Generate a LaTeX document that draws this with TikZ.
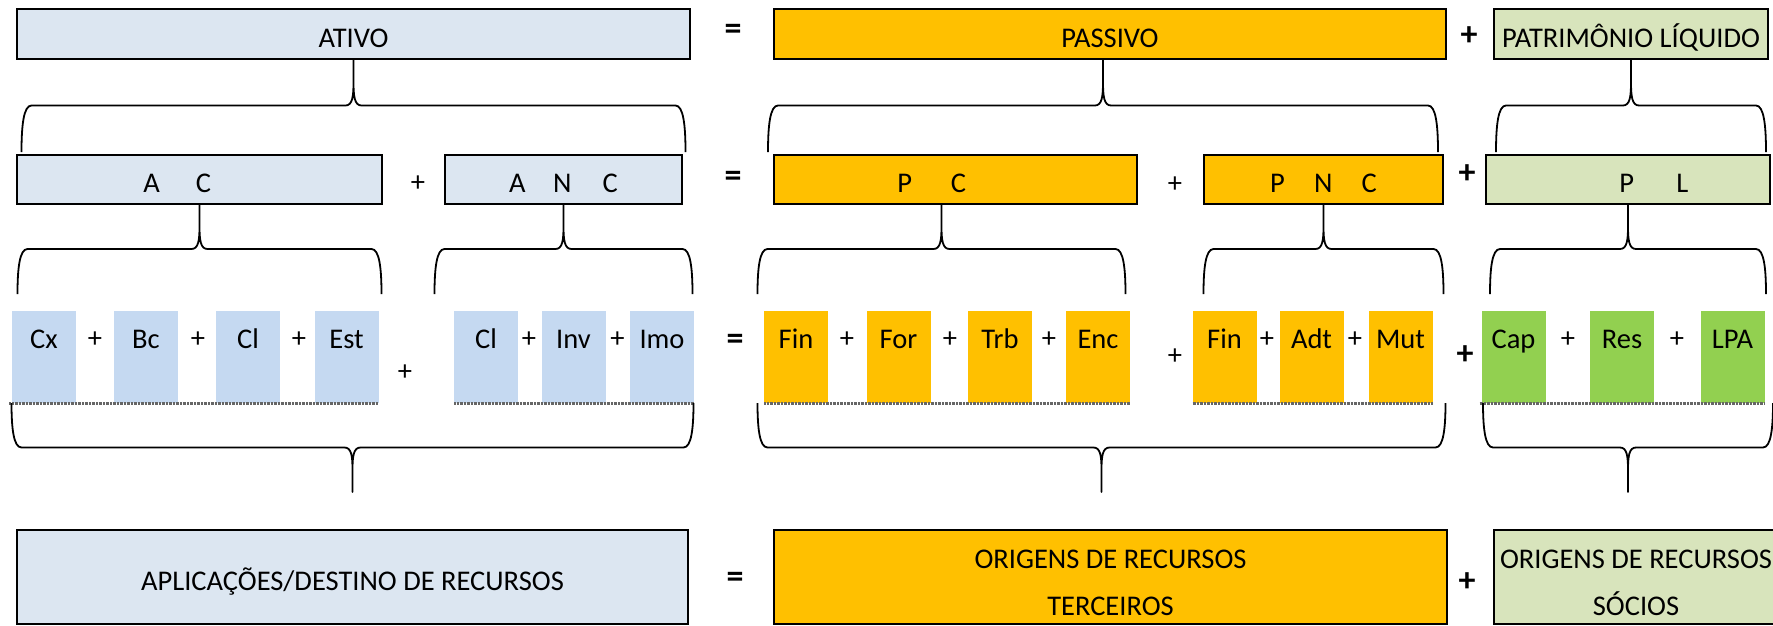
\documentclass[tikz,border=0pt]{standalone}
\usepackage{fontspec}
\setmainfont{Carlito}
\usepackage{xcolor}
\usetikzlibrary{positioning}

\definecolor{ativoazul}{HTML}{DCE6F1}
\definecolor{celazul}{HTML}{C5D9F1}
\definecolor{passlaranja}{HTML}{FFC000}
\definecolor{plverde}{HTML}{D8E4BC}
\definecolor{celverde}{HTML}{92D050}

% chave: ponta, meia largura, altura (negativa = ponta para baixo)
\newcommand{\chave}[3]{%
  \draw[chave, shift={#1}]
    (-#2,#3) .. controls (-#2,{0.72*(#3)}) and (-#2+2,{0.5*(#3)}) .. (-#2+10,{0.5*(#3)})
    -- (-8,{0.5*(#3)}) .. controls (-1,{0.5*(#3)}) and (0,{0.4*(#3)}) .. (0,{0.25*(#3)})
    -- (0,0) -- (0,{0.25*(#3)})
    .. controls (0,{0.4*(#3)}) and (1,{0.5*(#3)}) .. (8,{0.5*(#3)})
    -- (#2-10,{0.5*(#3)}) .. controls (#2-2,{0.5*(#3)}) and (#2,{0.72*(#3)}) .. (#2,#3);
}

\begin{document}
\begin{tikzpicture}[
  x=1pt, y=-1pt,
  font=\fontsize{28.5}{32}\selectfont,
  caixa/.style={draw=black, line width=2.5pt, outer sep=0pt, inner sep=0pt, minimum height=50pt, text height=26pt, text depth=0pt},
  duas/.style={align=center, font=\fontsize{28.5}{47}\selectfont, text height=76pt, text depth=0pt},
  celula/.style={outer sep=0pt, inner sep=0pt, minimum width=64pt, minimum height=92pt, text height=0pt, text depth=17pt},
  soma/.style={inner sep=0pt},
  opr/.style={inner sep=0pt, font=\fontsize{34}{38}\selectfont\bfseries},
  chave/.style={line width=1.8pt, line join=round},
  pontilhado/.style={draw=black!60, line width=3pt, dash pattern=on 0.7pt off 0.7pt}
]
\useasboundingbox (0,0) rectangle (1773,625);

% linha 1
\node[caixa, fill=ativoazul, minimum width=673pt] (ativo) at (353.5,34) {ATIVO};
\node[opr] (ig1) at (733,32) {=};
\node[caixa, fill=passlaranja, minimum width=672pt] (passivo) at (1110,34) {PASSIVO};
\node[opr] (ma1) at (1469,36) {+};
\node[caixa, fill=plverde, minimum width=274pt] (pl) at (1631,34) {PATRIMÔNIO LÍQUIDO};

% linha 2
\node[caixa, fill=ativoazul, minimum width=365pt, minimum height=49pt] (ac) at (199.5,179.5) {A\hspace{36pt}C\hspace{44.6pt}\mbox{}};
\node[soma] (ma2) at (418,184) {+};
\node[caixa, fill=ativoazul, minimum width=237pt, minimum height=49pt] (anc) at (563.5,179.5) {A\hspace{27.5pt}N\hspace{31pt}C};
\node[opr] (ig2) at (733,179) {=};
\node[caixa, fill=passlaranja, minimum width=363pt, minimum height=49pt] (pc) at (955.5,179.5) {P\hspace{38.8pt}C\hspace{47.8pt}\mbox{}};
\node[soma] (ma3) at (1175,185) {+};
\node[caixa, fill=passlaranja, minimum width=239pt, minimum height=49pt] (pnc) at (1323.5,179.5) {P\hspace{29.3pt}N\hspace{29.1pt}C};
\node[opr] (ma4) at (1467,174) {+};
\node[caixa, fill=plverde, minimum width=284pt, minimum height=49pt] (plb) at (1628,179.5) {\hspace{51.6pt}P\hspace{42.4pt}L};

% linha 3
\node[celula, fill=celazul] (cx) at (44,357) {Cx};
\node[soma] (s1) at (95,340) {+};
\node[celula, fill=celazul] (bc) at (146,357) {Bc};
\node[soma] (s2) at (198,340) {+};
\node[celula, fill=celazul] (cla) at (248,357) {Cl};
\node[soma] (s3) at (299,340) {+};
\node[celula, fill=celazul] (est) at (346.5,357) {Est};
\node[soma] (s4) at (405,373) {+};
\node[celula, fill=celazul] (clb) at (486,357) {Cl};
\node[soma] (s5) at (529,340) {+};
\node[celula, fill=celazul] (inv) at (573.5,357) {Inv};
\node[soma] (s6) at (617.5,340) {+};
\node[celula, fill=celazul] (imo) at (662,357) {Imo};
\node[opr] (ig3) at (735,342) {=};
\node[celula, fill=passlaranja] (fina) at (796,357) {Fin};
\node[soma] (s7) at (847,340) {+};
\node[celula, fill=passlaranja] (forn) at (898.5,357) {For};
\node[soma] (s8) at (950,340) {+};
\node[celula, fill=passlaranja] (trb) at (1000,357) {Trb};
\node[soma] (s9) at (1049,340) {+};
\node[celula, fill=passlaranja] (enc) at (1098,357) {Enc};
\node[soma] (s10) at (1175,357) {+};
\node[celula, fill=passlaranja] (finb) at (1224.5,357) {Fin};
\node[soma] (s11) at (1267,340) {+};
\node[celula, fill=passlaranja] (adt) at (1311.5,357) {Adt};
\node[soma] (s12) at (1355,340) {+};
\node[celula, fill=passlaranja] (mut) at (1400.5,357) {Mut};
\node[opr] (ma5) at (1465,355) {+};
\node[celula, fill=celverde] (cap) at (1513.5,357) {Cap};
\node[soma] (s13) at (1568,340) {+};
\node[celula, fill=celverde] (res) at (1622,357) {Res};
\node[soma] (s14) at (1677,340) {+};
\node[celula, fill=celverde] (lpa) at (1732.5,357) {LPA};

\draw[pontilhado] ([xshift=-3pt]cx.south west) -- (est.south east);
\draw[pontilhado] (clb.south west) -- (imo.south east);
\draw[pontilhado] (fina.south west) -- (enc.south east);
\draw[pontilhado] (finb.south west) -- (mut.south east);
\draw[pontilhado] ([xshift=-2pt]cap.south west) -- (lpa.south east);

% linha 4
\node[caixa, fill=ativoazul, minimum width=671pt, minimum height=94pt] (aplic) at (352.5,577) {APLICAÇÕES/DESTINO DE RECURSOS};
\node[opr] (ig4) at (735,580) {=};
\node[caixa, duas, fill=passlaranja, minimum width=673pt, minimum height=94pt] (terc) at (1110.5,577) {ORIGENS DE RECURSOS\\TERCEIROS};
\node[opr] (ma6) at (1467,582) {+};
\node[caixa, duas, fill=plverde, minimum width=284pt, minimum height=94pt] (socios) at (1636,577) {ORIGENS DE RECURSOS\\SÓCIOS};

% chaves
\chave{(ativo.south)}{332}{93}
\chave{([xshift=-7pt]passivo.south)}{335}{93}
\chave{(pl.south)}{135}{93}
\chave{(ac.south)}{182}{90}
\chave{(anc.south)}{129}{90}
\chave{([xshift=-14pt]pc.south)}{184}{90}
\chave{(pnc.south)}{120}{90}
\chave{(plb.south)}{138}{90}
\chave{([yshift=38pt]aplic.north)}{341}{-89}
\chave{([xshift=-9pt,yshift=38pt]terc.north)}{344}{-89}
\chave{([xshift=-8pt,yshift=38pt]socios.north)}{145}{-89}
\end{tikzpicture}
\end{document}
